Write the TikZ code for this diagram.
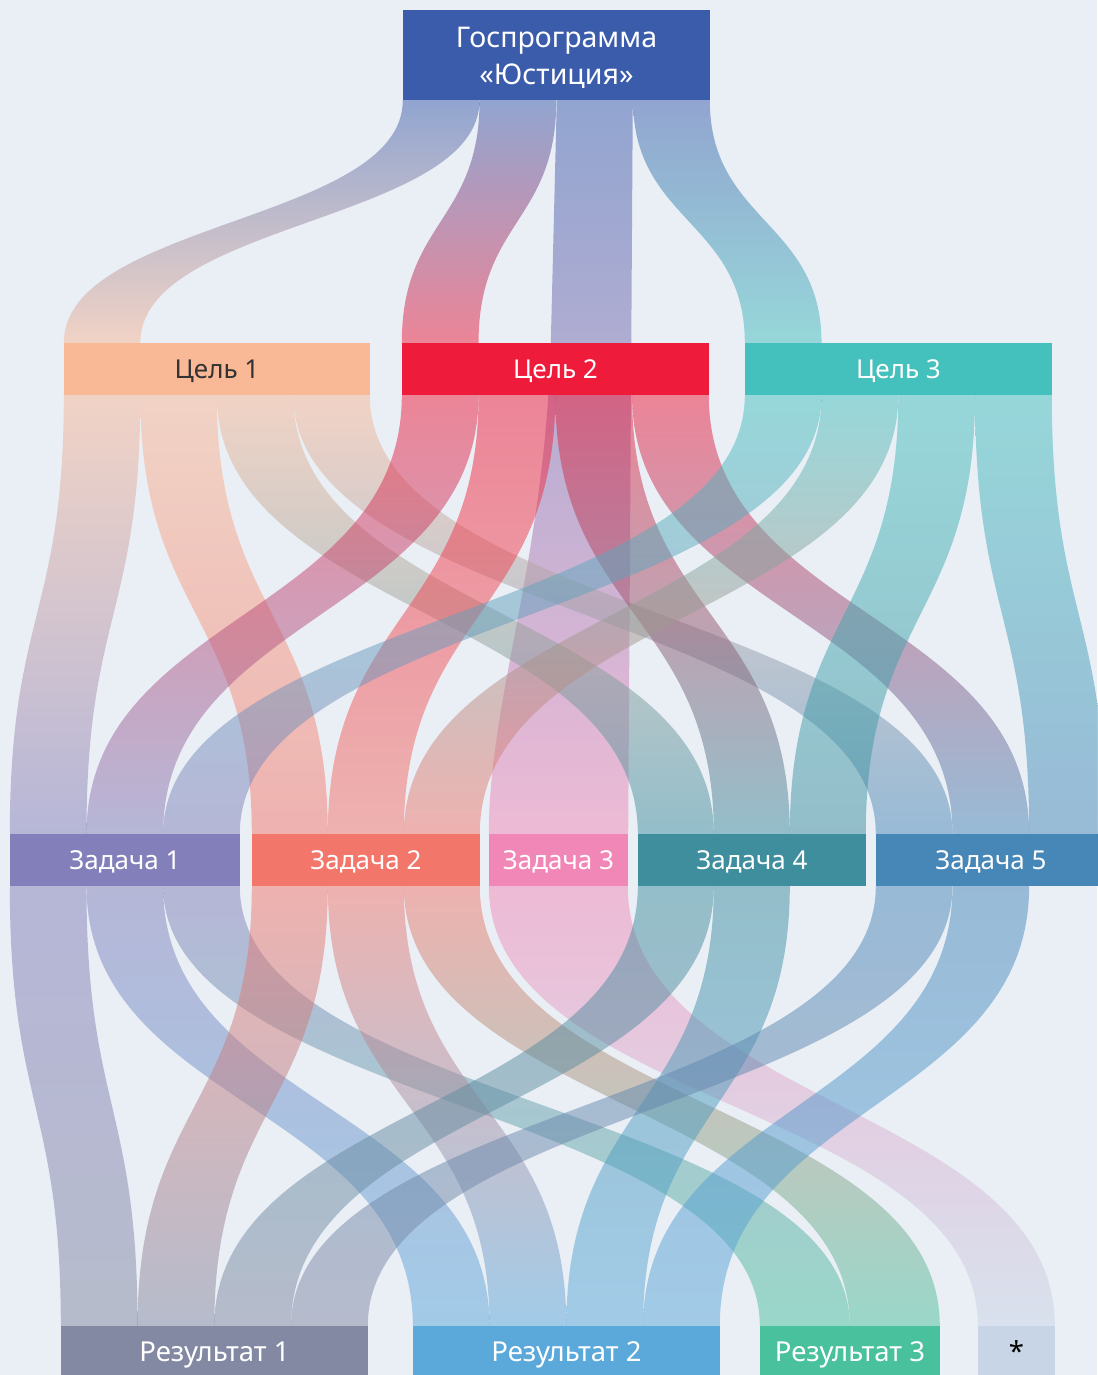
\documentclass[tikz,border=0pt]{standalone}
\usepackage{fontspec}
\setmainfont{Noto Sans}
\usetikzlibrary{calc}

\definecolor{bgcol}{HTML}{EAEFF6}
\definecolor{gpcol}{HTML}{3A5CAB}
\definecolor{c1col}{HTML}{F9B896}
\definecolor{c2col}{HTML}{EF1B3A}
\definecolor{c3col}{HTML}{44C0BD}
\definecolor{t1col}{HTML}{837FBA}
\definecolor{t2col}{HTML}{F2766A}
\definecolor{t3col}{HTML}{F187B6}
\definecolor{t4col}{HTML}{3E8E9E}
\definecolor{t5col}{HTML}{4787B8}
\definecolor{r1col}{HTML}{8389A2}
\definecolor{r2col}{HTML}{5BA8DB}
\definecolor{r3col}{HTML}{4AC19D}
\definecolor{rscol}{HTML}{C8D5E6}

\pgfdeclarelayer{bg}
\pgfdeclarelayer{flows}
\pgfsetlayers{bg,flows,main}

\tikzset{
  box/.style={rectangle, inner sep=0pt, minimum height=52, text=white},
  lbl/.style={box, text height=18.7, text depth=0, font=\fontsize{26}{34}\selectfont},
  reslbl/.style={box, text height=19.5, text depth=0, font=\fontsize{27.5}{34}\selectfont},
  band/.style={fill opacity=.5},
}

\newcommand\flow[8]{%
  \path (#1.south west) ++(#2,0) coordinate (fa) ++(#3,0) coordinate (fb);
  \path (#4.north west) ++(#5,0) coordinate (ta) ++(#6,0) coordinate (tb);
  \path ($(fa)!.5!(ta)$) coordinate (fm);
  \shade[band, top color=#7, bottom color=#8] (fa) .. controls (fa |- fm) and (ta |- fm) .. (ta)
    -- (tb) .. controls (tb |- fm) and (fb |- fm) .. (fb) -- cycle;
}

\begin{document}
\begin{tikzpicture}[x=1pt,y=-1pt]
\useasboundingbox (0,0) rectangle (1097,1375);
\begin{pgfonlayer}{bg}
\fill[bgcol] (0,0) rectangle (1097,1375);
\end{pgfonlayer}

\node[box, fill=gpcol, minimum width=307, minimum height=90, align=center,
  font=\fontsize{28.5}{37}\selectfont] (gp) at (556.5,55) {\rule{0pt}{25pt}Госпрограмма\\«Юстиция»};

\node[lbl, fill=c1col, minimum width=306, text=black!80] (c1) at (217,369) {Цель 1};
\node[lbl, fill=c2col, minimum width=307] (c2) at (555.5,369) {Цель 2};
\node[lbl, fill=c3col, minimum width=307] (c3) at (898.5,369) {Цель 3};

\node[lbl, fill=t1col, minimum width=230] (t1) at (125,860) {Задача 1};
\node[lbl, fill=t2col, minimum width=228] (t2) at (366,860) {Задача 2};
\node[lbl, fill=t3col, minimum width=139] (t3) at (558.5,860) {Задача 3};
\node[lbl, fill=t4col, minimum width=228] (t4) at (752,860) {Задача 4};
\node[lbl, fill=t5col, minimum width=230] (t5) at (991,860) {Задача 5};

\node[reslbl, fill=r1col, minimum width=307] (r1) at (214.5,1352) {Результат 1};
\node[reslbl, fill=r2col, minimum width=307] (r2) at (566.5,1352) {Результат 2};
\node[reslbl, fill=r3col, minimum width=180] (r3) at (850,1352) {Результат 3};
\node[reslbl, fill=rscol, minimum width=77, text=black] (rs) at (1016.5,1352) {*};

\begin{pgfonlayer}{flows}
\flow{gp}{0}{76.75}{c1}{0}{76.5}{gpcol}{c1col}
\flow{gp}{76.75}{76.75}{c2}{0}{76.75}{gpcol}{c2col}
\flow{gp}{230.25}{76.75}{c3}{0}{76.75}{gpcol}{c3col}
\path (gp.south west) ++(154,0) coordinate (ga) ++(76,0) coordinate (gb);
\path (ga |- c2.north) ++(-6,0) coordinate (gc);
\shade[band, top color=gpcol, bottom color=t3col] (ga) -- (gc)
  .. controls ($(gc)+(-6,217)$) and ($(t3.north west)+(0,-134)$) .. (t3.north west)
  -- (t3.north east) -- (gb) -- cycle;

\flow{c1}{0}{76.5}{t1}{0}{76.67}{c1col}{t1col}
\flow{c1}{76.5}{76.5}{t2}{0}{76}{c1col}{t2col}
\flow{c1}{153}{76.5}{t4}{0}{76}{c1col}{t4col}
\flow{c1}{229.5}{76.5}{t5}{0}{76.67}{c1col}{t5col}
\flow{c2}{0}{76.75}{t1}{76.67}{76.67}{c2col}{t1col}
\flow{c2}{76.75}{76.75}{t2}{76}{76}{c2col}{t2col}
\flow{c2}{153.5}{76.75}{t4}{76}{76}{c2col}{t4col}
\flow{c2}{230.25}{76.75}{t5}{76.67}{76.67}{c2col}{t5col}
\flow{c3}{0}{76.75}{t1}{153.33}{76.67}{c3col}{t1col}
\flow{c3}{76.75}{76.75}{t2}{152}{76}{c3col}{t2col}
\flow{c3}{153.5}{76.75}{t4}{152}{76}{c3col}{t4col}
\flow{c3}{230.25}{76.75}{t5}{153.33}{76.67}{c3col}{t5col}

\flow{t1}{0}{76.67}{r1}{0}{76.75}{t1col}{r1col}
\flow{t1}{76.67}{76.67}{r2}{0}{76.75}{t1col}{r2col}
\flow{t1}{153.33}{76.67}{r3}{0}{90}{t1col}{r3col}
\flow{t2}{0}{76}{r1}{76.75}{76.75}{t2col}{r1col}
\flow{t2}{76}{76}{r2}{76.75}{76.75}{t2col}{r2col}
\flow{t2}{152}{76}{r3}{90}{90}{t2col}{r3col}
\flow{t3}{0}{139}{rs}{0}{77}{t3col}{rscol}
\flow{t4}{0}{76}{r1}{153.5}{76.75}{t4col}{r1col}
\flow{t4}{76}{76}{r2}{153.5}{76.75}{t4col}{r2col}
\flow{t5}{0}{76.67}{r1}{230.25}{76.75}{t5col}{r1col}
\flow{t5}{76.67}{76.67}{r2}{230.25}{76.75}{t5col}{r2col}
\end{pgfonlayer}
\end{tikzpicture}
\end{document}
